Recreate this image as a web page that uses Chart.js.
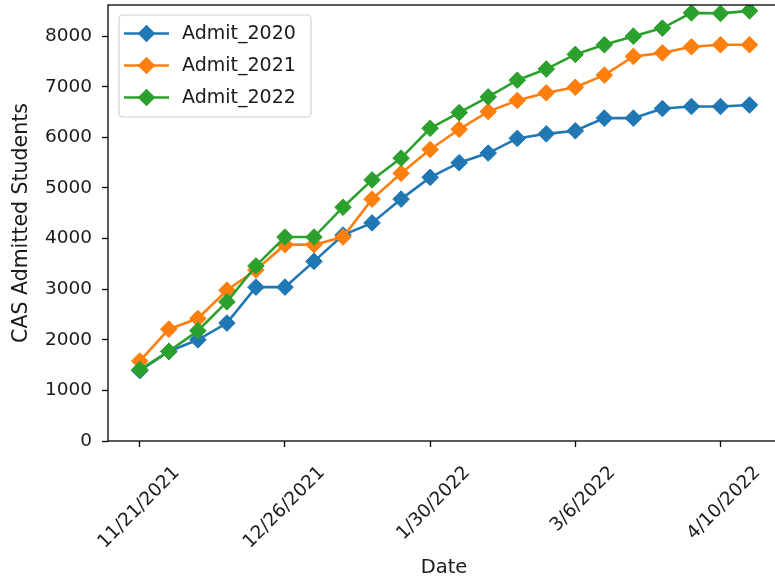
<!DOCTYPE html>
<html><head><meta charset="utf-8">
<script src="https://cdn.jsdelivr.net/npm/chart.js@4/dist/chart.umd.min.js"></script>
<style>
html,body{margin:0;padding:0;background:#fff;overflow:hidden}
#wrap{width:775px;height:581px;overflow:hidden;position:relative;background:#fff}
#c{position:absolute;left:0;top:0}
</style></head><body>
<div id="wrap"><canvas id="c" style="width:790px;height:581px"></canvas></div>
<script>
const dates = ["11/21/2021","11/28/2021","12/5/2021","12/12/2021","12/19/2021","12/26/2021",
  "1/2/2022","1/9/2022","1/16/2022","1/23/2022","1/30/2022","2/6/2022","2/13/2022","2/20/2022",
  "2/27/2022","3/6/2022","3/13/2022","3/20/2022","3/27/2022","4/3/2022","4/10/2022","4/17/2022"];
const xTickIndices = [0, 5, 10, 15, 20];
const yTicks = [0, 1000, 2000, 3000, 4000, 5000, 6000, 7000, 8000];
const admit2020 = [1390,1770,2000,2330,3040,3040,3550,4070,4310,4780,5210,5500,5690,5980,6070,6130,6380,6380,6570,6610,6610,6640];
const admit2021 = [1580,2210,2420,2980,3380,3880,3880,4030,4780,5290,5760,6160,6510,6730,6880,6990,7230,7600,7670,7790,7830,7830];
const admit2022 = [1410,1770,2180,2750,3460,4030,4030,4620,5160,5590,6180,6490,6800,7130,7350,7640,7830,8000,8160,8460,8450,8500];
const seriesNames = ["Admit_2020", "Admit_2021", "Admit_2022"];
const seriesColors = ["#1f77b4", "#ff7f0e", "#2ca02c"];

const FONT = "'DejaVu Sans', sans-serif";
const TXT = "#1a1a1a";

function mk(i, vals) {
  return {
    label: seriesNames[i],
    data: vals.map((v, k) => ({x: k, y: v})),
    borderColor: seriesColors[i],
    backgroundColor: seriesColors[i],
    borderWidth: 2.6,
    pointStyle: 'rectRot',
    pointRadius: 8.3,
    pointHoverRadius: 8.3,
    pointBorderWidth: 1,
    pointBackgroundColor: seriesColors[i],
    pointBorderColor: seriesColors[i],
    tension: 0,
    clip: 0,
    order: 2 - i
  };
}

const framePlugin = {
  id: 'frame',
  afterDraw(chart) {
    const {ctx, chartArea: a} = chart;
    ctx.save();
    ctx.strokeStyle = '#000';
    ctx.lineWidth = 1.3;
    ctx.strokeRect(a.left, a.top, a.right - a.left, a.bottom - a.top);
    ctx.restore();
    // legend
    const ds = chart.data.datasets;
    const bx = 119, by = 15, bw = 192, bh = 102, r = 4;
    ctx.save();
    ctx.beginPath();
    ctx.moveTo(bx + r, by);
    ctx.arcTo(bx + bw, by, bx + bw, by + bh, r);
    ctx.arcTo(bx + bw, by + bh, bx, by + bh, r);
    ctx.arcTo(bx, by + bh, bx, by, r);
    ctx.arcTo(bx, by, bx + bw, by, r);
    ctx.closePath();
    ctx.fillStyle = 'rgba(255,255,255,0.8)';
    ctx.fill();
    ctx.strokeStyle = 'rgba(204,204,204,0.9)';
    ctx.lineWidth = 1.2;
    ctx.stroke();
    ds.forEach((d, i) => {
      const y = 33.5 + i * 32;
      ctx.strokeStyle = d.borderColor;
      ctx.lineWidth = 2.6;
      ctx.beginPath();
      ctx.moveTo(124, y); ctx.lineTo(169, y); ctx.stroke();
      ctx.fillStyle = d.borderColor;
      ctx.beginPath();
      const cx = 146.5, rr = 8.8;
      ctx.moveTo(cx - rr, y); ctx.lineTo(cx, y - rr); ctx.lineTo(cx + rr, y); ctx.lineTo(cx, y + rr);
      ctx.closePath(); ctx.fill();
      ctx.fillStyle = TXT;
      ctx.font = "19px " + FONT;
      ctx.textBaseline = 'middle';
      ctx.textAlign = 'left';
      ctx.fillText(d.label, 182, y + 1);
    });
    ctx.restore();
  }
};

new Chart(document.getElementById('c'), {
  type: 'line',
  data: { datasets: [mk(0, admit2020), mk(1, admit2021), mk(2, admit2022)] },
  options: {
    responsive: false,
    animation: false,
    devicePixelRatio: 1,
    layout: { autoPadding: false, padding: { left: 0, top: 5, right: 10, bottom: 0 } },
    plugins: { legend: { display: false }, tooltip: { enabled: false } },
    scales: {
      x: {
        type: 'linear',
        min: -1.095,
        max: 22.05,
        afterBuildTicks(scale) { scale.ticks = xTickIndices.map(v => ({value: v})); },
        afterFit(scale) { scale.height = 140; scale.paddingLeft = 0; scale.paddingRight = 0; },
        border: { display: false },
        grid: { display: true, drawOnChartArea: false, drawTicks: true, tickLength: 6, tickColor: '#000', tickWidth: 1.3 },
        ticks: {
          autoSkip: false,
          minRotation: 45, maxRotation: 45,
          labelOffset: 37,
          padding: 15,
          color: TXT,
          font: { family: FONT, size: 18.5 },
          callback: (v) => dates[v]
        },
        title: { display: true, text: 'Date', color: TXT, font: { family: FONT, size: 19.5 }, padding: { top: 0, bottom: 1 } }
      },
      y: {
        min: 0,
        max: 8616,
        afterBuildTicks(scale) { scale.ticks = yTicks.map(v => ({value: v})); },
        afterFit(scale) { scale.width = 108; scale.paddingTop = 0; scale.paddingBottom = 0; },
        border: { display: false },
        grid: { display: true, drawOnChartArea: false, drawTicks: true, tickLength: 6, tickColor: '#000', tickWidth: 1.3 },
        ticks: {
          padding: 10,
          color: TXT,
          font: { family: FONT, size: 18.5 },
          callback: (v) => String(v)
        },
        title: { display: true, text: 'CAS Admitted Students', color: TXT, font: { family: FONT, size: 20.5 }, padding: { top: 9.7, bottom: 0 } }
      }
    }
  },
  plugins: [framePlugin]
});
</script>
</body></html>
